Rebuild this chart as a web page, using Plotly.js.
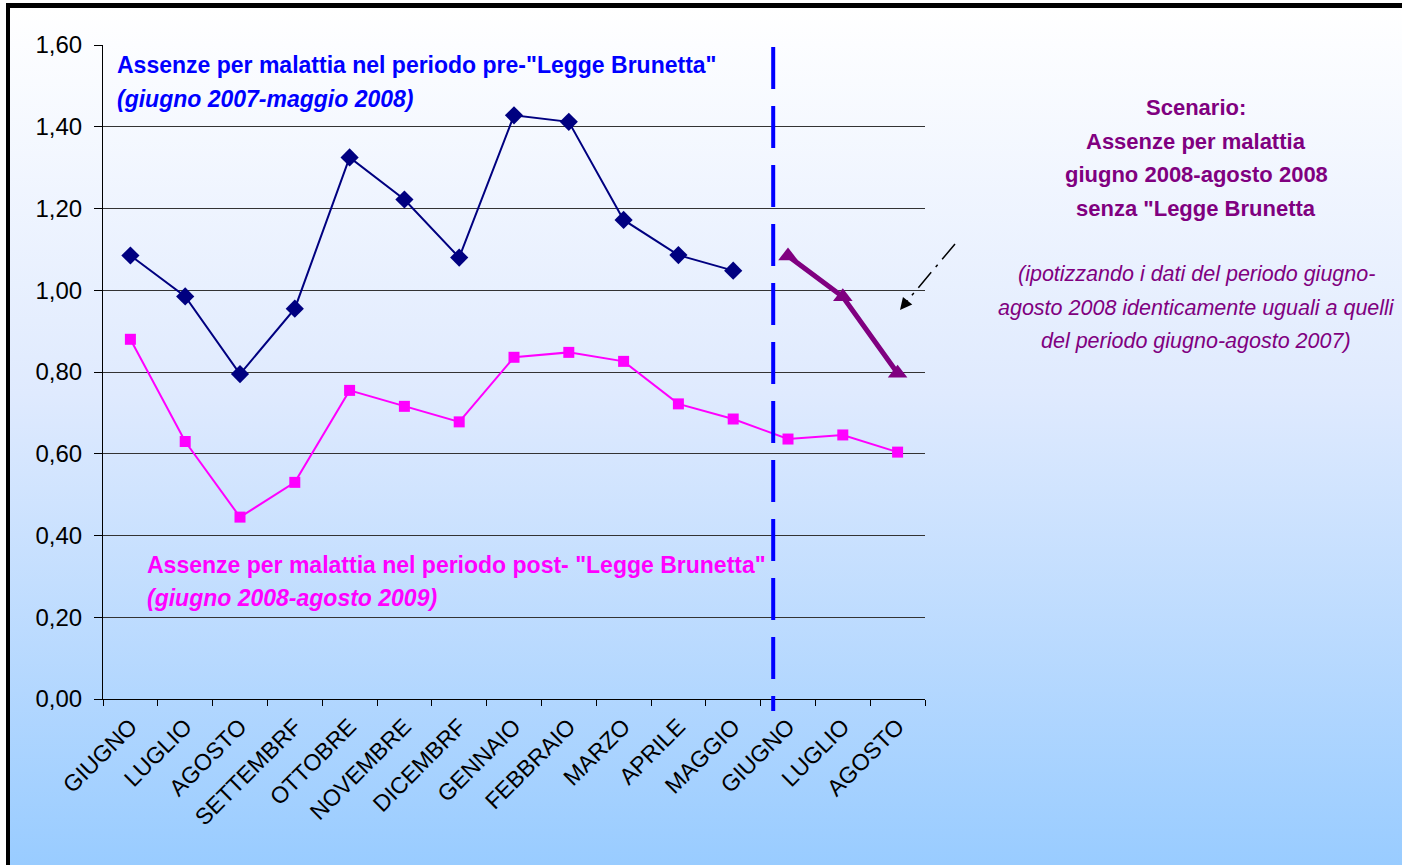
<!DOCTYPE html>
<html>
<head>
<meta charset="utf-8">
<script src="https://cdn.plot.ly/plotly-3.0.1.min.js"></script>
<style>
  html, body { margin:0; padding:0; width:1402px; height:865px; overflow:hidden; background:#ffffff; }
  #frame { position:absolute; left:6px; top:3px; width:1396px; height:862px; box-sizing:border-box;
           border-top:5px solid #000; border-left:4px solid #000;
           background:linear-gradient(to bottom, #ffffff 0%, #dfeafe 45%, #99ccff 100%); }
  #chart { position:absolute; left:0; top:0; width:1402px; height:865px; }
</style>
</head>
<body>
<div id="frame"></div>
<div id="chart"></div>
<script>
// ---- data ----
const months = ["GIUGNO","LUGLIO","AGOSTO","SETTEMBRF","OTTOBRE","NOVEMBRE","DICEMBRF","GENNAIO","FEBBRAIO","MARZO","APRILE","MAGGIO","GIUGNO","LUGLIO","AGOSTO"];
const prePeriod  = [1.085, 0.985, 0.795, 0.955, 1.325, 1.222, 1.080, 1.428, 1.412, 1.172, 1.086, 1.048];
const postPeriod = [0.880, 0.630, 0.445, 0.530, 0.755, 0.716, 0.678, 0.836, 0.848, 0.826, 0.722, 0.685, 0.636, 0.646, 0.604];
const scenario   = [1.084, 0.984, 0.797];
const scenarioStart = 12;

const idx = months.map((m, i) => i);
const FONT = '"Liberation Sans", Arial, sans-serif';

// plot area in pixels
const L = 103, R = 925, T = 45, B = 699, W = 1402, H = 865;
const px = x => (x - L) / (R - L);
const py = y => (B - y) / (B - T);

const traces = [
  { x: idx.slice(0, prePeriod.length), y: prePeriod, mode: 'lines+markers', type: 'scatter',
    line: { color: '#000080', width: 2 }, marker: { symbol: 'diamond', size: 14, color: '#000080' },
    hoverinfo: 'y' },
  { x: idx, y: postPeriod, mode: 'lines+markers', type: 'scatter',
    line: { color: '#FF00FF', width: 2 }, marker: { symbol: 'square', size: 11, color: '#FF00FF' },
    hoverinfo: 'y' },
  { x: idx.slice(scenarioStart), y: scenario, mode: 'lines+markers', type: 'scatter',
    line: { color: '#800080', width: 5 }, marker: { symbol: 'triangle-up', size: 17, color: '#800080' },
    hoverinfo: 'y' }
];

function ann(text, xPix, yPix, color, size, anchor) {
  return { text: text, xref: 'paper', yref: 'paper', x: px(xPix), y: py(yPix),
           xanchor: anchor || 'left', yanchor: 'middle', showarrow: false,
           font: { family: FONT, size: size, color: color } };
}

const annotations = [
  ann('<b>Assenze per malattia nel periodo pre-"Legge Brunetta"</b>', 115, 65, '#0000FF', 23),
  ann('<b><i>(giugno 2007-maggio 2008)</i></b>', 115, 99, '#0000FF', 23),
  ann('<b>Assenze per malattia nel periodo post- "Legge Brunetta"</b>', 145, 565, '#FF00FF', 23),
  ann('<b><i>(giugno 2008-agosto 2009)</i></b>', 145, 598, '#FF00FF', 23),
  ann('<b>Scenario:</b>', 1196, 107, '#800080', 22, 'center'),
  ann('<b>Assenze per malattia</b>', 1196, 141, '#800080', 22, 'center'),
  ann('<b>giugno 2008-agosto 2008</b>', 1196, 174, '#800080', 22, 'center'),
  ann('<b>senza "Legge Brunetta</b>', 1196, 208, '#800080', 22, 'center'),
  ann('<i>(ipotizzando i dati del periodo giugno-</i>', 1196, 274, '#800080', 21.5, 'center'),
  ann('<i>agosto 2008 identicamente uguali a quelli</i>', 1196, 308, '#800080', 21.5, 'center'),
  ann('<i>del periodo giugno-agosto 2007)</i>', 1196, 341, '#800080', 21.5, 'center'),
  // arrow head
  { xref: 'paper', yref: 'paper', x: px(900), y: py(310), ax: 9, ay: -11, axref: 'pixel', ayref: 'pixel',
    text: '', showarrow: true, arrowhead: 2, arrowsize: 1.6, arrowwidth: 1.5, arrowcolor: '#000' }
];

const shapes = [
  { type: 'line', xref: 'x', yref: 'paper', x0: 11.73, x1: 11.73, y0: py(47), y1: py(711),
    line: { color: '#0000FF', width: 4, dash: '42px,17px' } },
  { type: 'line', xref: 'paper', yref: 'paper', x0: px(955), y0: py(244), x1: px(908), y1: py(300),
    line: { color: '#000', width: 1.5, dash: '20px,7px,3px,7px' } }
];

const layout = {
  width: W, height: H,
  margin: { l: L, r: W - R, t: T, b: H - B, pad: 0 },
  paper_bgcolor: 'rgba(0,0,0,0)', plot_bgcolor: 'rgba(0,0,0,0)',
  separators: ',.',
  showlegend: false,
  font: { family: FONT, color: '#000' },
  xaxis: {
    range: [-0.5, months.length - 0.5], tickmode: 'array', tickvals: idx, ticktext: months,
    tickangle: -45, ticks: '', showgrid: false, zeroline: false,
    showline: true, linecolor: '#000', linewidth: 1,
    tickfont: { family: FONT, size: 23, color: '#000' },
    ticklabelstandoff: 4,
    minor: { tickmode: 'linear', tick0: -0.5, dtick: 1, ticks: 'outside', ticklen: 6, tickcolor: '#000', showgrid: false },
    fixedrange: true
  },
  yaxis: {
    range: [0, 1.6], dtick: 0.2, tick0: 0, tickformat: '.2f',
    ticks: 'outside', ticklen: 8, tickcolor: '#000',
    showline: true, linecolor: '#000', linewidth: 1,
    showgrid: true, gridcolor: '#333', gridwidth: 1, zeroline: false,
    tickfont: { family: FONT, size: 24, color: '#000' },
    ticklabelstandoff: 7,
    fixedrange: true
  },
  annotations: annotations,
  shapes: shapes
};

Plotly.newPlot('chart', traces, layout, { displayModeBar: false, staticPlot: true });
</script>
</body>
</html>
